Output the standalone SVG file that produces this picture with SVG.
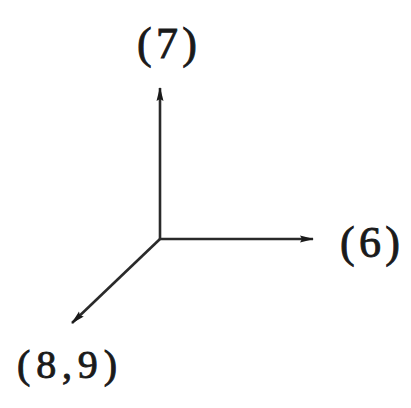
<svg xmlns="http://www.w3.org/2000/svg" width="411" height="408" viewBox="0 0 411 408">
<style>
.lbl{font-family:"Liberation Serif","Times New Roman",serif;fill:#1a1a1a;stroke:#1a1a1a;stroke-width:0.9;}
.ax{stroke:#2a2a2a;stroke-width:2.6;fill:none;}
</style>
<defs>
<marker id="ah" viewBox="0 0 14 9" refX="13" refY="4.5" markerWidth="14" markerHeight="9" markerUnits="userSpaceOnUse" orient="auto">
<path d="M0,1 L14,4.5 L0,8 L2,4.5 Z" fill="#1a1a1a"/>
</marker>
</defs>
<rect width="411" height="408" fill="#ffffff"/>
<g id="connectors">
<line class="ax" x1="160" y1="239" x2="160" y2="88" marker-end="url(#ah)"/>
<line class="ax" x1="160" y1="239" x2="313" y2="239" marker-end="url(#ah)"/>
<line class="ax" x1="160" y1="239" x2="72" y2="323" marker-end="url(#ah)"/>
</g>
<g id="node-7">
<text class="lbl" x="137" y="58" font-size="44" textLength="60" lengthAdjust="spacing">(7)</text>
</g>
<g id="node-6">
<text class="lbl" x="340" y="257" font-size="44" textLength="60" lengthAdjust="spacing">(6)</text>
</g>
<g id="node-8-9">
<text class="lbl" x="17" y="378" font-size="40" textLength="100" lengthAdjust="spacing">(8,9)</text>
</g>
</svg>
